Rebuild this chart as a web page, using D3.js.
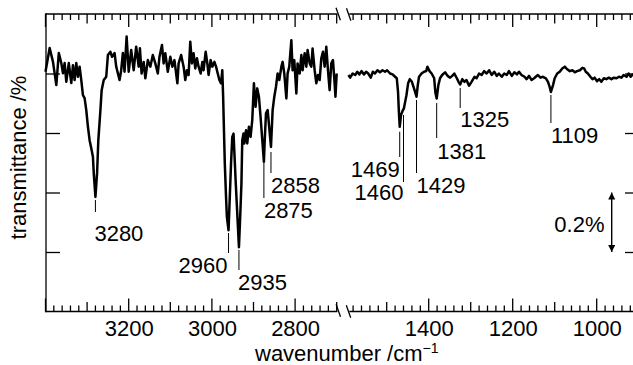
<!DOCTYPE html>
<html><head><meta charset="utf-8">
<script src="https://cdn.jsdelivr.net/npm/d3@7"></script>
<style>html,body{margin:0;padding:0;background:#fff;}svg{display:block;}</style>
</head><body>
<svg id="chart" width="633" height="365"></svg>
<script>
// ---------- data ----------
const leftWavenumber = [3400,3390,3382,3374,3368,3362,3358,3354,3350,3344,3338,3334,3330,3326,3322,3318,3314,3310,3306,3302,3298,3294,3290,3286,3284,3280,3276,3273,3268,3265,3260,3254,3250,3244,3240,3234,3230,3222,3218,3214,3210,3205,3200,3194,3188,3182,3176,3173,3169,3164,3160,3154,3148,3142,3136,3130,3126,3120,3116,3112,3106,3100,3095,3090,3083,3080,3074,3068,3064,3060,3056,3052,3048,3044,3040,3036,3032,3027,3023,3020,3015,3011,3008,3003,2999,2994,2990,2986,2982,2978,2975,2973,2971,2969,2966,2964,2960,2957,2954,2951,2948,2943,2935,2932,2929,2927,2924,2922,2918,2915,2911,2907,2903,2899,2895,2891,2887,2883,2875,2873,2870,2866,2858,2854,2850,2846,2842,2838,2833,2830,2826,2821,2818,2814,2809,2806,2802,2797,2794,2789,2785,2782,2777,2773,2770,2765,2761,2758,2753,2749,2745,2741,2737,2733,2729,2725,2721,2717,2713,2709,2705,2703,2700];
const leftTransmittance = [0.806,0.886,0.839,0.761,0.869,0.835,0.801,0.835,0.772,0.835,0.768,0.828,0.778,0.835,0.789,0.823,0.778,0.727,0.717,0.677,0.621,0.576,0.549,0.520,0.465,0.385,0.465,0.576,0.677,0.744,0.778,0.789,0.862,0.873,0.856,0.869,0.823,0.778,0.811,0.869,0.806,0.924,0.806,0.879,0.811,0.890,0.823,0.885,0.800,0.839,0.784,0.845,0.823,0.862,0.834,0.800,0.856,0.896,0.834,0.868,0.806,0.856,0.823,0.845,0.767,0.834,0.862,0.823,0.778,0.811,0.795,0.907,0.834,0.868,0.817,0.851,0.823,0.800,0.839,0.811,0.873,0.834,0.795,0.845,0.823,0.839,0.823,0.800,0.778,0.767,0.811,0.722,0.609,0.498,0.385,0.318,0.273,0.385,0.498,0.587,0.598,0.441,0.216,0.318,0.430,0.576,0.598,0.565,0.609,0.565,0.621,0.587,0.643,0.767,0.688,0.750,0.722,0.654,0.503,0.576,0.666,0.677,0.553,0.677,0.722,0.755,0.800,0.778,0.823,0.839,0.800,0.716,0.800,0.823,0.912,0.811,0.845,0.733,0.834,0.800,0.862,0.811,0.868,0.823,0.879,0.834,0.823,0.884,0.811,0.767,0.795,0.778,0.851,0.873,0.823,0.890,0.811,0.744,0.834,0.845,0.767,0.722,0.800];

const rightWavenumber = [1591,1587,1581,1575,1570,1565,1560,1554,1549,1544,1538,1533,1528,1522,1516,1510,1504,1499,1492,1486,1480,1476,1473,1471,1469,1466,1462,1459,1453,1449,1445,1440,1435,1429,1426,1423,1417,1411,1406,1403,1398,1393,1387,1384,1381,1377,1373,1368,1361,1355,1349,1344,1339,1333,1329,1325,1320,1315,1310,1304,1298,1291,1286,1280,1274,1268,1262,1256,1250,1244,1238,1233,1226,1220,1214,1209,1202,1196,1190,1185,1179,1172,1167,1161,1155,1149,1145,1140,1134,1128,1121,1116,1112,1109,1104,1100,1094,1088,1082,1076,1071,1064,1058,1052,1047,1040,1034,1030,1026,1021,1015,1010,1005,999,994,989,983,977,971,965,959,953,947,941,936,929,924,919,914,905];
const rightTransmittance = [0.795,0.786,0.800,0.795,0.806,0.797,0.808,0.797,0.806,0.800,0.786,0.806,0.800,0.811,0.804,0.811,0.806,0.811,0.800,0.797,0.789,0.784,0.738,0.671,0.621,0.660,0.675,0.683,0.727,0.767,0.781,0.772,0.750,0.722,0.761,0.789,0.800,0.806,0.808,0.823,0.808,0.800,0.784,0.735,0.716,0.761,0.784,0.795,0.804,0.792,0.786,0.792,0.800,0.784,0.772,0.763,0.781,0.772,0.778,0.759,0.772,0.789,0.784,0.800,0.795,0.808,0.800,0.811,0.795,0.806,0.792,0.800,0.789,0.800,0.795,0.808,0.792,0.804,0.797,0.806,0.795,0.789,0.781,0.792,0.778,0.784,0.789,0.795,0.786,0.789,0.784,0.772,0.755,0.738,0.761,0.784,0.800,0.806,0.817,0.823,0.815,0.808,0.811,0.804,0.808,0.811,0.819,0.817,0.806,0.800,0.789,0.781,0.786,0.774,0.781,0.772,0.784,0.781,0.786,0.781,0.786,0.784,0.789,0.786,0.795,0.789,0.800,0.789,0.797,0.795];

const leftTickLabels = [3200, 3000, 2800];
const rightTickLabels = [1400, 1200, 1000];
const yTickValues = [0.2, 0.4, 0.6, 0.8];
const peakLabels = [3280, 2960, 2935, 2875, 2858, 1469, 1460, 1429, 1381, 1325, 1109];
const scaleBarValues = [0.2, 0.4];
const scaleBarText = "0.2%";
const xTitle = "wavenumber /cm";
const xTitleSup = "\u22121";
const yTitle = "transmittance /%";

// ---------- layout ----------
const FONT = "'Liberation Sans', Arial, Helvetica, sans-serif";
const FS = 22;
const yTop = 14, yBot = 311.5, leftEdge = 46, rightEdge = 639;
const svg = d3.select("#chart");

const xL = d3.scaleLinear().domain([3400, 2700]).range([45.5, 336.7]);
const xR = d3.scaleLinear().domain([1600, 900]).range([344.7, 638.7]);
const y = d3.scaleLinear().domain([0, 1]).range([yBot, yTop]);
const xFor = wn => (wn >= 2000 ? xL(wn) : xR(wn));

// annotation layout: [line y1, line y2, text anchor, text dx, baseline]
const annLayout = {
  3280: [200, 212, "start", -1, 241],
  2960: [233, 253, "end", -1, 273],
  2935: [250, 270, "start", -1, 290],
  2875: [163, 198, "start", 0, 218.3],
  2858: [152, 173, "start", 0, 193.3],
  1469: [131.7, 157, "end", 0, 177],
  1460: [115, 182, "end", 0, 200],
  1429: [100, 173, "start", 0, 192.7],
  1381: [103, 138, "start", 0.5, 159.3],
  1325: [88, 108, "start", 0, 126.7],
  1109: [95, 123, "start", 0, 143.3]
};

const axisStroke = 1.3;
const g = svg.append("g");

// ---------- x ticks (top & bottom), three levels ----------
function tickLen(v) { return v % 200 === 0 ? 13 : (v % 100 === 0 ? 9.5 : 6); }
const leftTicks = d3.range(3400, 2699, -20);
const rightTicks = d3.range(1580, 899, -20);

function drawTicks(scale, ticks) {
  [[yTop, 1], [yBot, -1]].forEach(([yy, dir]) => {
    g.append("g").selectAll("line").data(ticks).join("line")
      .attr("x1", d => scale(d)).attr("x2", d => scale(d))
      .attr("y1", yy).attr("y2", d => yy + dir * tickLen(d))
      .attr("stroke", "#000").attr("stroke-width", axisStroke);
  });
}
drawTicks(xL, leftTicks);
drawTicks(xR, rightTicks);

// x tick labels via axes (no tick lines)
const axL = d3.axisBottom(xL).tickValues(leftTickLabels).tickSize(0).tickPadding(0).tickFormat(d3.format("d"));
const axR = d3.axisBottom(xR).tickValues(rightTickLabels).tickSize(0).tickPadding(0).tickFormat(d3.format("d"));
[axL, axR].forEach(ax => {
  const a = g.append("g").attr("transform", `translate(0,${yBot})`).call(ax);
  a.select(".domain").remove();
  a.selectAll("text").attr("font-family", FONT).attr("font-size", FS).attr("fill", "#000")
    .attr("dy", null).attr("y", 24.5);
});

// frame lines
const frame = [
  [leftEdge, yTop, leftEdge, yBot],
  [leftEdge, yTop, xL(2700), yTop],
  [leftEdge, yBot, xL(2700), yBot],
  [350, yTop, rightEdge + 2, yTop],
  [350, yBot, rightEdge + 2, yBot]
];
g.append("g").selectAll("line").data(frame).join("line")
  .attr("x1", d => d[0]).attr("y1", d => d[1]).attr("x2", d => d[2]).attr("y2", d => d[3])
  .attr("stroke", "#000").attr("stroke-width", axisStroke).attr("stroke-linecap", "square");

// break marks
const breaks = [[338.2, yTop], [348.7, yTop + 0.5], [338.3, yBot - 1], [348.5, yBot]];
g.append("g").selectAll("line").data(breaks).join("line")
  .attr("x1", d => d[0] - 2.2).attr("y1", d => d[1] - 6.3)
  .attr("x2", d => d[0] + 2.2).attr("y2", d => d[1] + 6.3)
  .attr("stroke", "#000").attr("stroke-width", axisStroke);

// y ticks (left and right, inward)
const yl = g.append("g").attr("transform", `translate(${leftEdge},0)`)
  .call(d3.axisRight(y).tickValues(yTickValues).tickSize(14).tickFormat(""));
yl.select(".domain").remove();
const yr = g.append("g").attr("transform", `translate(${rightEdge},0)`)
  .call(d3.axisLeft(y).tickValues(yTickValues).tickSize(14).tickFormat(""));
yr.select(".domain").remove();
g.selectAll(".tick line").attr("stroke", "#000").attr("stroke-width", axisStroke);

// ---------- spectrum ----------
const leftData = leftWavenumber.map((w, i) => [w, leftTransmittance[i]]);
const rightData = rightWavenumber.map((w, i) => [w, rightTransmittance[i]]);
const lineL = d3.line().x(d => xL(d[0])).y(d => y(d[1]));
const lineR = d3.line().x(d => xR(d[0])).y(d => y(d[1]));
[[leftData, lineL], [rightData, lineR]].forEach(([data, ln]) => {
  g.append("path").datum(data).attr("d", ln)
    .attr("fill", "none").attr("stroke", "#000").attr("stroke-width", 2.5)
    .attr("stroke-linejoin", "round").attr("stroke-linecap", "butt");
});

// ---------- peak annotations ----------
const ann = g.append("g");
peakLabels.forEach(p => {
  const [y1, y2, anchor, dx, base] = annLayout[p];
  const x = xFor(p);
  ann.append("line").attr("x1", x).attr("x2", x).attr("y1", y1).attr("y2", y2)
    .attr("stroke", "#000").attr("stroke-width", 1);
  ann.append("text").attr("x", x + dx).attr("y", base).attr("text-anchor", anchor)
    .attr("font-family", FONT).attr("font-size", FS).attr("fill", "#000").text(p);
});

// ---------- scale bar ----------
const sbX = 611.7;
const defs = svg.append("defs");
defs.append("marker").attr("id", "ah").attr("viewBox", "0 0 10 10")
  .attr("refX", 10).attr("refY", 5).attr("markerWidth", 7).attr("markerHeight", 7)
  .attr("markerUnits", "userSpaceOnUse").attr("orient", "auto-start-reverse")
  .append("path").attr("d", "M0,0 L10,5 L0,10 z").attr("fill", "#000");
g.append("line").attr("x1", sbX).attr("x2", sbX)
  .attr("y1", y(scaleBarValues[1])).attr("y2", y(scaleBarValues[0]))
  .attr("stroke", "#000").attr("stroke-width", 1.4)
  .attr("marker-start", "url(#ah)").attr("marker-end", "url(#ah)");
g.append("text").attr("x", 604.5).attr("y", (y(scaleBarValues[0]) + y(scaleBarValues[1])) / 2 + 9.5)
  .attr("text-anchor", "end").attr("font-family", FONT).attr("font-size", FS).attr("fill", "#000")
  .text(scaleBarText);

// ---------- titles ----------
const xt = g.append("text").attr("x", 255).attr("y", 361)
  .attr("font-family", FONT).attr("font-size", FS).attr("fill", "#000");
xt.append("tspan").text(xTitle);
xt.append("tspan").attr("font-size", 14).attr("dy", -8).text(xTitleSup);

g.append("text").attr("transform", "translate(25.5,157.5) rotate(-90)")
  .attr("text-anchor", "middle").attr("font-family", FONT).attr("font-size", FS).attr("fill", "#000")
  .text(yTitle);
</script>
</body></html>
